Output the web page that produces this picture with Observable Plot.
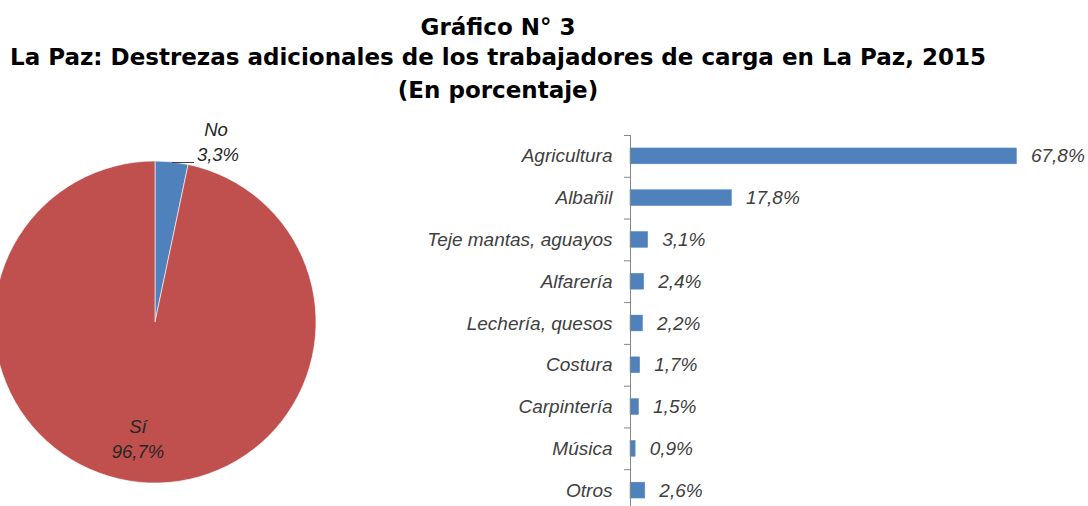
<!DOCTYPE html>
<html>
<head>
<meta charset="utf-8">
<script src="https://cdn.jsdelivr.net/npm/d3@7"></script>
<script src="https://cdn.jsdelivr.net/npm/@observablehq/plot@0.6"></script>
<style>
  html, body { margin: 0; padding: 0; background: #fff; overflow: hidden; }
  #wrap { width: 1088px; height: 506px; position: relative; }
  #title { width: 996px; height: 112px; box-sizing: border-box; padding-top: 12px; text-align: center;
           font-family: "DejaVu Sans", "Liberation Sans", Arial, sans-serif; font-weight: bold; font-size: 23px;
           line-height: 30px; color: #000; white-space: nowrap; }
  #title .l3 { margin-top: 3px; }
  #chart svg { display: block; }
</style>
</head>
<body>
<div id="wrap">
  <div id="title">
    <div>Gráfico N° 3</div>
    <div>La Paz: Destrezas adicionales de los trabajadores de carga en La Paz, 2015</div>
    <div class="l3">(En porcentaje)</div>
  </div>
  <div id="chart"></div>
</div>
<script>
// Bar chart data
const categories = ["Agricultura", "Albañil", "Teje mantas, aguayos", "Alfarería", "Lechería, quesos", "Costura", "Carpintería", "Música", "Otros"];
const values = [67.8, 17.8, 3.1, 2.4, 2.2, 1.7, 1.5, 0.9, 2.6];

// Pie chart data
const pieLabels = ["No", "Sí"];
const pieValues = [3.3, 96.7];
const pieColors = ["#4F81BD", "#C0504D"];

const fmt = v => v.toFixed(1).replace(".", ",") + "%";

const bars = categories.map((c, i) => ({cat: c, value: values[i]}));
const pieData = pieLabels.map((l, i) => ({label: l, value: pieValues[i], color: pieColors[i]}));

const labelFont = "'Liberation Sans', Arial, sans-serif";

function pieMark(index, scales, channels, dimensions) {
  const r = 161;
  const g = d3.create("svg:g").attr("transform", "translate(155,210)");
  const arcs = d3.pie().sort(null).value(d => d.value)(pieData);
  const arc = d3.arc().innerRadius(0).outerRadius(r);
  g.selectAll("path").data(arcs).join("path")
    .attr("d", arc)
    .attr("fill", d => d.data.color)
    .attr("stroke", "#fff")
    .attr("stroke-width", 0.6);
  const lab = g.append("g")
    .attr("font-family", labelFont)
    .attr("font-style", "italic")
    .attr("font-size", 18.5)
    .attr("fill", "#262626")
    .attr("text-anchor", "middle");
  // "No" label outside, with short leader line
  const no = arcs[0];
  lab.append("text").attr("x", 61).attr("y", -186).text(no.data.label);
  lab.append("text").attr("x", 63).attr("y", -161).text(fmt(no.data.value));
  g.append("line").attr("x1", 17).attr("x2", 39).attr("y1", -159.5).attr("y2", -159.5)
    .attr("stroke", "#404040").attr("stroke-width", 1);
  // "Sí" label inside
  const si = arcs[1];
  lab.append("text").attr("x", -17).attr("y", 111).text(si.data.label);
  lab.append("text").attr("x", -17).attr("y", 136).text(fmt(si.data.value));
  return g.node();
}

const step = 376 / categories.length;

const chart = Plot.plot({
  width: 1088,
  height: 394,
  marginTop: 23,
  marginBottom: 0,
  marginLeft: 630,
  marginRight: 2,
  x: {domain: [0, 80], axis: null},
  y: {domain: categories, range: [23, 399], paddingInner: 0.62, paddingOuter: 0.31, round: false, axis: null},
  style: {background: "transparent", overflow: "visible"},
  marks: [
    pieMark,
    Plot.barX(bars, {x: "value", y: "cat", fill: "#4F81BD", stroke: "#5B8AC4", strokeWidth: 0.5}),
    Plot.ruleX([0], {stroke: "#868686", strokeWidth: 1}),
    Plot.ruleY(categories, {y: d => d, x1: -1.05, x2: 0, dy: -step / 2, stroke: "#868686"}),
    Plot.text(bars, {x: 0, y: "cat", text: "cat", textAnchor: "end", dx: -18,
      fontStyle: "italic", fontSize: 19, fontFamily: labelFont, fill: "#404040"}),
    Plot.text(bars, {x: "value", y: "cat", text: d => fmt(d.value), textAnchor: "start", dx: 14,
      fontStyle: "italic", fontSize: 19, fontFamily: labelFont, fill: "#404040"})
  ]
});
document.getElementById("chart").appendChild(chart);
</script>
</body>
</html>
